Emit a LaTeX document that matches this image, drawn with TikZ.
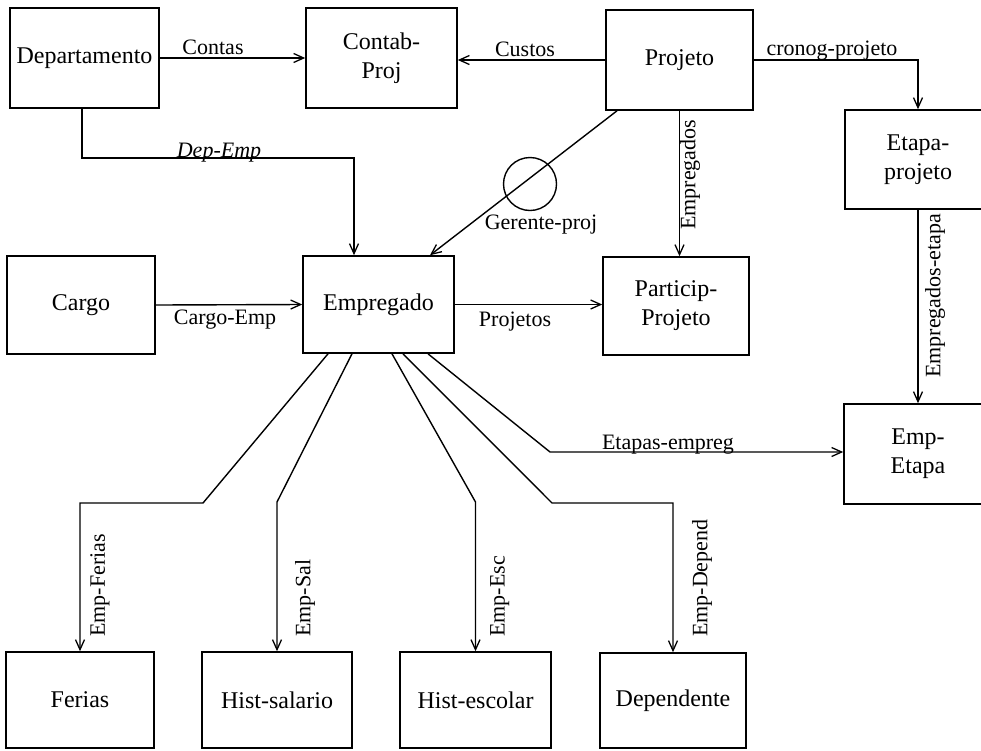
\documentclass[tikz,border=0pt]{standalone}
\usepackage{fontspec}
\setmainfont{Liberation Serif}
\usetikzlibrary{arrows.meta}
\begin{document}
\begin{tikzpicture}[x=1pt,y=-1pt,
  entity/.style={draw, line width=1.6pt, align=center, inner sep=0pt,
    font=\fontsize{24}{29}\selectfont},
  rel/.style={line width=1.4pt,
    -{Straight Barb[length=10pt,width=9pt,line width=1.3pt]}},
  lbl/.style={inner sep=1pt, font=\fontsize{22}{24}\selectfont},
  vlbl/.style={lbl, rotate=90, anchor=north west},
]
\useasboundingbox (0,0) rectangle (981,750);

% entities
\node[entity, minimum width=149pt, minimum height=100pt] (dep)    at (84.5,58)  {Departamento};
\node[entity, minimum width=151pt, minimum height=100pt] (contab) at (381.5,58) {Contab-\\Proj};
\node[entity, minimum width=147pt, minimum height=100pt] (proj)   at (679.5,60) {Projeto};
\node[entity, minimum width=146pt, minimum height=99pt]  (etapa)  at (918,159.5) {Etapa-\\projeto};
\node[entity, minimum width=148pt, minimum height=98pt]  (cargo)  at (81,305)   {Cargo};
\node[entity, minimum width=151pt, minimum height=97pt]  (emp)    at (378.5,304.5) {Empregado};
\node[entity, minimum width=146pt, minimum height=98pt]  (partic) at (676,306)  {Particip-\\Projeto};
\node[entity, minimum width=148pt, minimum height=100pt] (empetapa) at (918,454) {Emp-\\Etapa};
\node[entity, minimum width=148pt, minimum height=96pt]  (ferias)  at (80,700)   {Ferias};
\node[entity, minimum width=150pt, minimum height=96pt]  (histsal) at (277,700)  {Hist-salario};
\node[entity, minimum width=151pt, minimum height=96pt]  (histesc) at (475.5,700) {Hist-escolar};
\node[entity, minimum width=146pt, minimum height=95pt]  (depend)  at (673,700.5) {Dependente};

% relationships of the upper row
\draw[rel] (dep.east) -- (contab.west);
\draw[rel] (proj.west) -- (proj.west -| contab.east);
\draw[rel] (proj.east) -| (etapa.north);
\coordinate (de) at (354,158);
\draw[rel] ([xshift=-2.5pt]dep.south) |- (de) -- (de |- emp.north);
\draw[rel] ([xshift=-62.5pt]proj.south) -- ([xshift=51.5pt]emp.north);
\node[circle, draw, line width=1.4pt, minimum size=53pt, inner sep=0pt] (gp) at (530,184) {};
\draw[rel] (proj.south) -- (proj.south |- partic.north);
\draw[rel] (etapa.south) -- (empetapa.north);

% middle row
\draw[rel] (cargo.east) -- (emp.west);
\draw[rel] (emp.east) -- (emp.east -| partic.west);

% relationships leaving Empregado downwards
\coordinate (f1) at (203,503);
\draw[rel] ([xshift=-50.5pt]emp.south) -- (f1) -| (ferias.north);
\coordinate (s1) at (277,502);
\draw[rel] ([xshift=-26.5pt]emp.south) -- (s1) -- (histsal.north);
\coordinate (e1) at (475.5,502);
\draw[rel] ([xshift=13.5pt]emp.south) -- (e1) -- (histesc.north);
\coordinate (d1) at (552,503);
\draw[rel] ([xshift=24.5pt]emp.south) -- (d1) -| (depend.north);
\coordinate (t1) at (550,452);
\draw[rel] ([xshift=49.5pt]emp.south) -- (t1) -- (t1 -| empetapa.west);

% relationship names
\node[lbl] (lcontas) at (213,47) {Contas};
\node[lbl] (lcustos) at (525,49) {Custos};
\node[lbl] (lcronog) at (832,51) {cronog-projeto};
\node[lbl, anchor=base, font=\fontsize{22}{24}\selectfont\itshape] (ldepemp) at (219,157) {Dep-Emp};
\node[lbl] (lgerente) at (541,225) {Gerente-proj};
\node[lbl] (lcargo) at (225,320) {Cargo-Emp};
\node[lbl] (lprojetos) at (515,322) {Projetos};
\node[lbl, anchor=base] (letapas) at (668,449) {Etapas-empreg};
\node[vlbl] (lempregados) at (679,231) {Empregados};
\node[vlbl] (lempetapa) at (924,379) {Empregados-etapa};
\node[vlbl] (lferias) at (89,638) {Emp-Ferias};
\node[vlbl] (lsal) at (294,638) {Emp-Sal};
\node[vlbl] (lesc) at (489,638) {Emp-Esc};
\node[vlbl] (ldepend) at (691,638) {Emp-Depend};
\end{tikzpicture}
\end{document}
